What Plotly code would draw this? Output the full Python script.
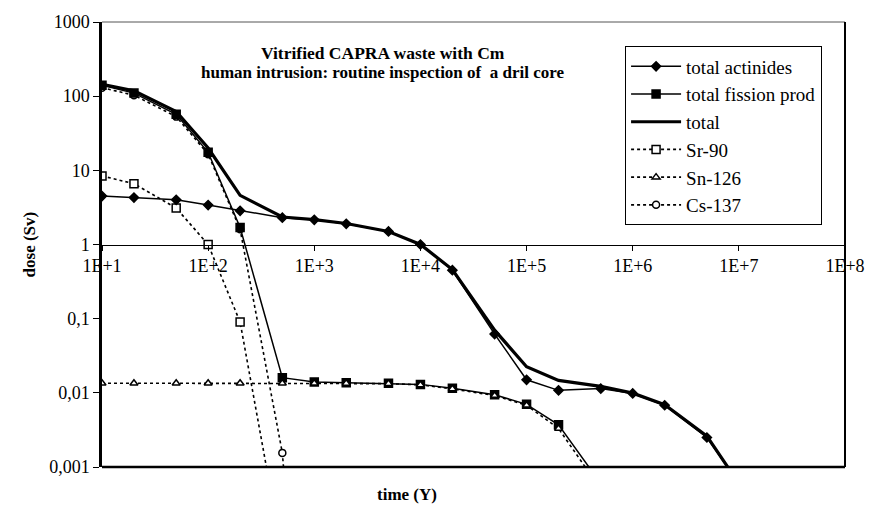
import plotly.graph_objects as go

# ---- data ----
years = [10, 20, 50, 100, 200, 500, 1000, 2000, 5000, 1e4, 2e4, 5e4, 1e5, 2e5, 5e5, 1e6, 2e6, 5e6, 1e7]
total_actinides = [4.5, 4.3, 4.0, 3.4, 2.85, 2.3, 2.15, 1.9, 1.5, 1.0, 0.45, 0.062, 0.015, 0.0108,
                   0.0114, 0.0098, 0.0068, 0.0025, 0.0006]
fp_years = [10, 20, 50, 100, 200, 500, 1000, 2000, 5000, 1e4, 2e4, 5e4, 1e5, 2e5, 5e5]
total_fission = [140, 110, 57, 17.5, 1.7, 0.016, 0.014, 0.0137, 0.0135, 0.013, 0.0115, 0.0094,
                 0.007, 0.0037, 0.0006]
total_dose = [145, 118, 62, 20, 4.6, 2.35, 2.17, 1.92, 1.5, 1.0, 0.46, 0.07, 0.0225, 0.0147,
              0.0122, 0.0099, 0.0069, 0.0026, 0.0006]
sr_years = [10, 20, 50, 100, 200, 500]
sr90 = [8.4, 6.6, 3.1, 1.0, 0.09, 0.000066]
sn_years = [10, 20, 50, 100, 200, 500, 1000, 2000, 5000, 1e4, 2e4, 5e4, 1e5, 2e5, 5e5]
sn126 = [0.0135, 0.0135, 0.0135, 0.0135, 0.0135, 0.0135, 0.0135, 0.0134, 0.0133, 0.0128, 0.0113,
         0.0092, 0.0068, 0.0033, 0.0005]
cs_years = [10, 20, 50, 100, 200, 500, 1000]
cs137 = [130, 103, 53, 16.5, 1.6, 0.00155, 1e-8]

x_tickvals = [1e1, 1e2, 1e3, 1e4, 1e5, 1e6, 1e7, 1e8]
x_ticktext = ["1E+1", "1E+2", "1E+3", "1E+4", "1E+5", "1E+6", "1E+7", "1E+8"]
y_tickvals = [0.001, 0.01, 0.1, 1, 10, 100, 1000]
y_ticktext = ["0,001", "0,01", "0,1", "1", "10", "100", "1000"]

SERIF = "Liberation Serif, Times New Roman, serif"
fig = go.Figure()

def add(name, x, y, width, dash, symbol, size, fill, rank, mode="lines+markers"):
    fig.add_trace(go.Scatter(
        x=x, y=y, name=name, mode=mode, legendrank=rank, legendgroup=name,
        line=dict(color="black", width=width, dash=dash),
        marker=dict(symbol=symbol, size=size, color=fill,
                    line=dict(color="black", width=1.5)),
        cliponaxis=True,
    ))

# draw order (bottom first); legend order via legendrank
add("Cs-137", cs_years, cs137, 1.6, "dot", "circle", 7, "white", 6)
add("Sr-90", sr_years, sr90, 1.6, "dot", "square", 8, "white", 4)
add("total", years, total_dose, 3.2, "solid", "circle", 1, "black", 3, mode="lines")
add("total actinides", years, total_actinides, 1.5, "solid", "diamond", 7, "black", 1)
add("total fission prod", fp_years, total_fission, 1.5, "solid", "square", 8, "black", 2)
add("Sn-126", sn_years, sn126, 1.6, "dot", "triangle-up", 7, "white", 5)

fig.update_layout(
    width=877, height=518,
    margin=dict(l=102, r=22, t=19, b=51),
    paper_bgcolor="white", plot_bgcolor="white",
    font=dict(family=SERIF, size=17, color="black"),
    showlegend=True,
    legend=dict(x=0.704, y=0.945, xanchor="left", yanchor="top",
                bgcolor="white", bordercolor="black", borderwidth=1,
                font=dict(family=SERIF, size=19), itemwidth=50,
                traceorder="grouped", tracegroupgap=0),
    xaxis=dict(type="log", range=[1, 8], anchor="free", position=0.5,
               showline=True, linecolor="black", linewidth=1,
               ticks="outside", ticklen=5, tickcolor="black",
               tickvals=x_tickvals, ticktext=x_ticktext,
               tickfont=dict(family=SERIF, size=18),
               showgrid=False, zeroline=False),
    yaxis=dict(type="log", range=[-3, 3],
               showline=True, linecolor="black", linewidth=2.5,
               ticks="outside", ticklen=6, tickcolor="black",
               tickvals=y_tickvals, ticktext=y_ticktext,
               tickfont=dict(family=SERIF, size=18),
               showgrid=False, zeroline=False),
    shapes=[
        dict(type="line", xref="paper", yref="paper", x0=0, x1=1, y0=1, y1=1,
             line=dict(color="#555", width=1)),
        dict(type="line", xref="paper", yref="paper", x0=1, x1=1, y0=0, y1=1,
             line=dict(color="black", width=2)),
        dict(type="line", xref="paper", yref="paper", x0=0, x1=1, y0=0, y1=0,
             line=dict(color="black", width=2.5)),
    ],
    annotations=[
        dict(text="<b>Vitrified CAPRA waste with Cm</b>", xref="paper", yref="paper",
             x=0.378, y=0.931, xanchor="center", yanchor="middle", showarrow=False,
             font=dict(family=SERIF, size=17.5)),
        dict(text="<b>human intrusion: routine inspection of  a dril core</b>", xref="paper",
             yref="paper", x=0.378, y=0.886, xanchor="center", yanchor="middle",
             showarrow=False, font=dict(family=SERIF, size=17)),
        dict(text="<b>time (Y)</b>", xref="paper", yref="paper", x=0.41, y=-0.0625,
             xanchor="center", yanchor="middle", showarrow=False,
             font=dict(family=SERIF, size=17)),
        dict(text="<b>dose (Sv)</b>", xref="paper", yref="paper", x=-0.097, y=0.5,
             xanchor="center", yanchor="middle", showarrow=False, textangle=-90,
             font=dict(family=SERIF, size=17)),
    ],
)

fig.write_html("out.html", config={"displayModeBar": False},
               post_script="document.body.style.margin='0px';")
